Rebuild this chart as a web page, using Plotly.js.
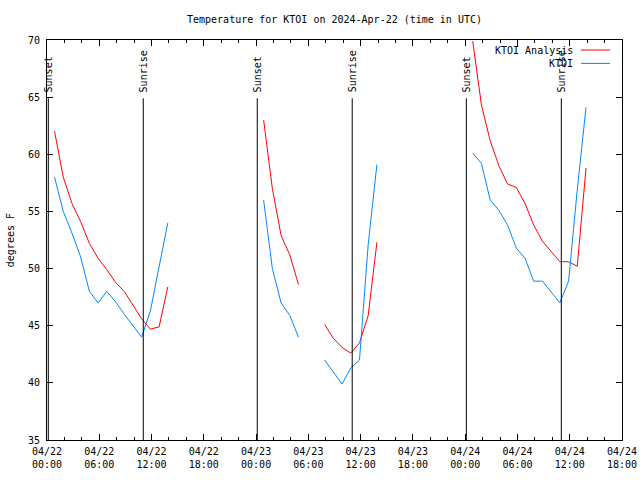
<!DOCTYPE html>
<html>
<head>
<meta charset="utf-8">
<script src="https://cdn.plot.ly/plotly-3.0.1.min.js"></script>
<style>html,body{margin:0;padding:0;background:#fff;}#chart{width:640px;height:480px;}</style>
</head>
<body>
<div id="chart"></div>
<script>
// Observation / analysis times (UTC); null values mark gaps
const times = [
  '2024-04-22 00:52','2024-04-22 01:52','2024-04-22 02:52','2024-04-22 03:52','2024-04-22 04:52',
  '2024-04-22 05:52','2024-04-22 06:52','2024-04-22 07:52','2024-04-22 08:52','2024-04-22 09:52',
  '2024-04-22 10:52','2024-04-22 11:52','2024-04-22 12:52','2024-04-22 13:52',
  '2024-04-22 14:52',
  '2024-04-23 00:52','2024-04-23 01:52','2024-04-23 02:52','2024-04-23 03:52','2024-04-23 04:52',
  '2024-04-23 05:52',
  '2024-04-23 07:52','2024-04-23 08:52','2024-04-23 09:52','2024-04-23 10:52','2024-04-23 11:52',
  '2024-04-23 12:52','2024-04-23 13:52',
  '2024-04-23 14:52',
  '2024-04-24 00:52','2024-04-24 01:52','2024-04-24 02:52','2024-04-24 03:52','2024-04-24 04:52',
  '2024-04-24 05:52','2024-04-24 06:52','2024-04-24 07:52','2024-04-24 08:52','2024-04-24 09:52',
  '2024-04-24 10:52','2024-04-24 11:52','2024-04-24 12:52','2024-04-24 13:52'
];
const analysisTemps = [
  62.0, 58.0, 55.7, 54.1, 52.2, 50.9, 49.9, 48.8, 48.0, 46.8, 45.6, 44.7, 44.9, 48.4,
  null,
  63.0, 57.0, 52.9, 51.2, 48.6,
  null,
  45.1, 43.9, 43.1, 42.6, 43.5, 45.9, 52.3,
  null,
  69.9, 64.3, 61.2, 59.0, 57.4, 57.1, 55.7, 53.8, 52.4, 51.5, 50.6, 50.6, 50.2, 58.8
];
const observedTemps = [
  58.0, 55.0, 53.1, 51.0, 48.0, 47.0, 48.0, 47.1, 46.0, 45.0, 44.0, 46.3, 50.0, 54.0,
  null,
  56.0, 50.0, 47.0, 45.9, 44.0,
  null,
  42.0, 41.0, 39.9, 41.3, 42.0, 52.1, 59.1,
  null,
  60.1, 59.2, 56.0, 55.1, 53.8, 51.8, 50.9, 48.9, 48.9, 47.9, 47.0, 48.9, 56.9, 64.1
];
const seriesNames = ['KTOI Analysis', 'KTOI'];
const seriesColors = ['#ff0000', '#0088ff'];

const sunLabels = ['Sunset','Sunrise','Sunset','Sunrise','Sunset','Sunrise'];
const sunTimes = ['2024-04-22 00:09','2024-04-22 11:03','2024-04-23 00:08',
                  '2024-04-23 11:02','2024-04-24 00:08','2024-04-24 11:02'];

const xTickVals = ['2024-04-22 00:00','2024-04-22 06:00','2024-04-22 12:00','2024-04-22 18:00',
                   '2024-04-23 00:00','2024-04-23 06:00','2024-04-23 12:00','2024-04-23 18:00',
                   '2024-04-24 00:00','2024-04-24 06:00','2024-04-24 12:00','2024-04-24 18:00'];
const xTickText = ['04/22<br>00:00','04/22<br>06:00','04/22<br>12:00','04/22<br>18:00',
                   '04/23<br>00:00','04/23<br>06:00','04/23<br>12:00','04/23<br>18:00',
                   '04/24<br>00:00','04/24<br>06:00','04/24<br>12:00','04/24<br>18:00'];

const FONT = 'DejaVu Sans Mono, Liberation Mono, monospace';

const traces = [analysisTemps, observedTemps].map((vals, i) => ({
  x: times, y: vals, type: 'scatter', mode: 'lines', name: seriesNames[i],
  line: {color: seriesColors[i], width: 1}, connectgaps: false, hoverinfo: 'skip'
}));

const shapes = [];
const annotations = [];
sunTimes.forEach((t, i) => {
  shapes.push({type: 'line', xref: 'x', yref: 'y', x0: t, x1: t, y0: 35, y1: 64.9,
               line: {color: '#000', width: 1}});
  annotations.push({xref: 'x', yref: 'y', x: t, y: 65, text: sunLabels[i], showarrow: false,
                    textangle: -90, xanchor: 'center', yanchor: 'bottom', yshift: 3,
                    font: {family: FONT, size: 10, color: '#000'}});
});
// gnuplot-style legend (text right, sample line on the right)
seriesNames.forEach((n, i) => {
  const yp = 0.975 - i * 0.0335;
  annotations.push({xref: 'paper', yref: 'paper', x: 0.9175, y: yp, text: n, showarrow: false,
                    xanchor: 'right', yanchor: 'middle', font: {family: FONT, size: 10, color: '#000'}});
  shapes.push({type: 'line', xref: 'paper', yref: 'paper', x0: 0.9287, x1: 0.979, y0: yp, y1: yp,
               line: {color: seriesColors[i], width: 1}});
});
// y-axis title placed like gnuplot's ylabel
annotations.push({xref: 'paper', yref: 'paper', x: -0.064, y: 0.5, text: 'degrees F', showarrow: false,
                  textangle: -90, xanchor: 'center', yanchor: 'middle',
                  font: {family: FONT, size: 10, color: '#000'}});

const layout = {
  width: 640, height: 480,
  margin: {l: 47, r: 18, t: 40, b: 40},
  paper_bgcolor: '#fff', plot_bgcolor: '#fff',
  showlegend: false,
  font: {family: FONT, size: 10, color: '#000'},
  title: {text: 'Temperature for KTOI on 2024-Apr-22 (time in UTC)', xref: 'paper', x: 0.5,
          yref: 'container', y: 0.96, yanchor: 'middle', font: {family: FONT, size: 10, color: '#000'}},
  xaxis: {
    type: 'date', range: ['2024-04-22 00:00', '2024-04-24 18:00'],
    tickmode: 'array', tickvals: xTickVals, ticktext: xTickText,
    ticks: 'inside', ticklen: 6, tickcolor: '#000', tickwidth: 1,
    minor: {ticks: 'inside', ticklen: 3, dtick: 7200000, tickcolor: '#000', tickwidth: 1, showgrid: false},
    showline: true, linecolor: '#000', linewidth: 1, mirror: 'allticks',
    showgrid: false, zeroline: false, tickangle: 0, ticklabelstandoff: 2,
    tickfont: {family: FONT, size: 10, color: '#000'}
  },
  yaxis: {
    range: [35, 70], tickmode: 'linear', tick0: 35, dtick: 5,
    ticks: 'inside', ticklen: 6, tickcolor: '#000', tickwidth: 1,
    showline: true, linecolor: '#000', linewidth: 1, mirror: 'allticks',
    showgrid: false, zeroline: false, ticklabelstandoff: 4,
    tickfont: {family: FONT, size: 10, color: '#000'}
  },
  shapes: shapes,
  annotations: annotations
};

Plotly.newPlot('chart', traces, layout, {displayModeBar: false, staticPlot: true});
</script>
</body>
</html>
